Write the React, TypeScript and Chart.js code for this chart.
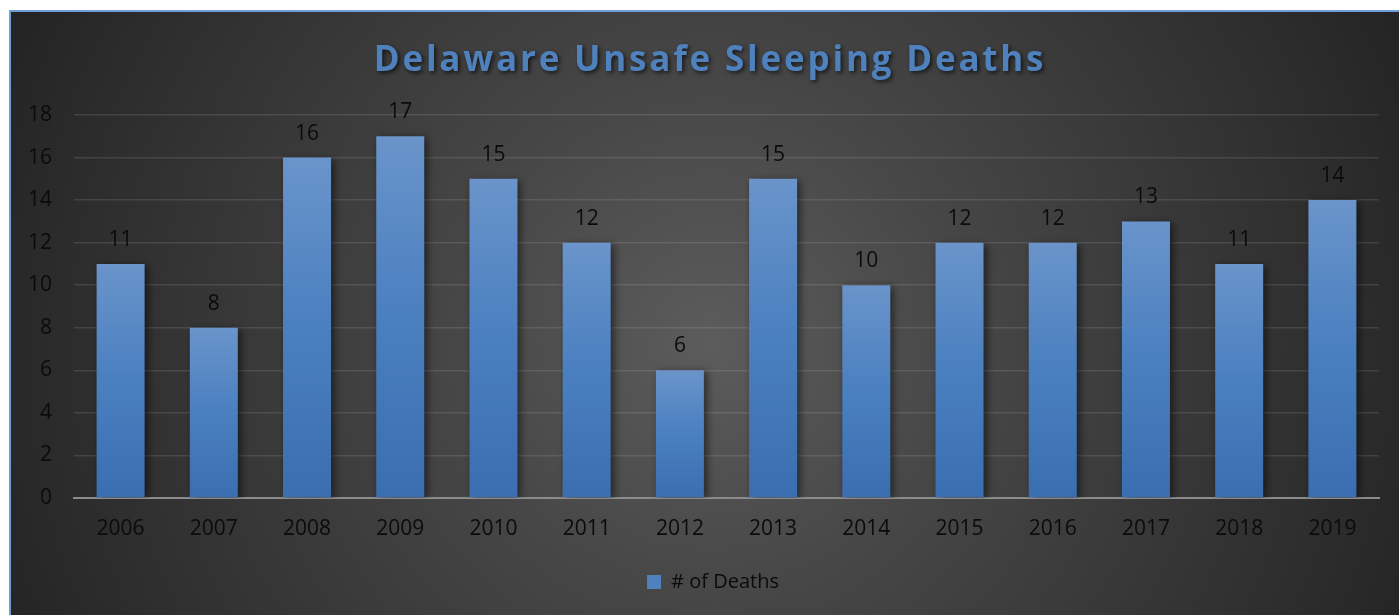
import React, { useEffect, useRef } from "react";
import { Chart, registerables } from "chart.js";

Chart.register(...registerables);

const categories = ["2006", "2007", "2008", "2009", "2010", "2011", "2012", "2013", "2014", "2015", "2016", "2017", "2018", "2019"];
const deaths = [11, 8, 16, 17, 15, 12, 6, 15, 10, 12, 12, 13, 11, 14];
const yTicks = [0, 2, 4, 6, 8, 10, 12, 14, 16, 18];
const titleText = "Delaware Unsafe Sleeping Deaths";
const seriesName = "# of Deaths";

const FONT = "'Open Sans', 'Noto Sans', sans-serif";
const TEXT = "#0b0b0b";

const bgPlugin = {
  id: "bgPlugin",
  afterLayout(chart: any) {
    const lg = chart.legend;
    if (lg) {
      lg.left += 18;
      lg.right += 18;
    }
  },
  beforeDraw(chart: any) {
    const { ctx, width, height } = chart;
    ctx.save();
    const g = ctx.createRadialGradient(700, 330, 0, 700, 330, 760);
    g.addColorStop(0, "#5c5c5c");
    g.addColorStop(0.33, "#474747");
    g.addColorStop(0.875, "#2b2b2b");
    g.addColorStop(1, "#242424");
    ctx.fillStyle = g;
    ctx.fillRect(0, 0, width, height);
    // title
    ctx.font = `bold 35px ${FONT}`;
    (ctx as any).letterSpacing = "2.8px";
    ctx.textAlign = "center";
    ctx.textBaseline = "alphabetic";
    ctx.shadowColor = "rgba(0,0,0,0.65)";
    ctx.shadowBlur = 4;
    ctx.shadowOffsetX = 2;
    ctx.shadowOffsetY = 2;
    ctx.fillStyle = "#4f81bd";
    ctx.fillText(titleText, 699, 59);
    ctx.restore();
  },
};

const shadowPlugin = {
  id: "shadowPlugin",
  beforeDatasetsDraw(chart: any) {
    const ctx = chart.ctx;
    ctx.save();
    ctx.shadowColor = "rgba(0,0,0,0.55)";
    ctx.shadowBlur = 8;
    ctx.shadowOffsetX = 3;
    ctx.shadowOffsetY = 2;
  },
  afterDatasetsDraw(chart: any) {
    const ctx = chart.ctx;
    ctx.restore();
    ctx.save();
    ctx.font = `21px ${FONT}`;
    ctx.fillStyle = TEXT;
    ctx.textAlign = "center";
    ctx.textBaseline = "middle";
    const meta = chart.getDatasetMeta(0);
    meta.data.forEach((bar: any, i: number) => {
      ctx.fillText(String(chart.data.datasets[0].data[i]), bar.x, bar.y - 24);
    });
    ctx.restore();
  },
};

export default function App() {
  const ref = useRef<HTMLCanvasElement | null>(null);
  useEffect(() => {
    document.body.style.overflow = "hidden";
    const canvas = ref.current!;
    const chart = new Chart(canvas, {
      type: "bar",
      data: {
        labels: categories,
        datasets: [
          {
            label: seriesName,
            data: deaths,
            borderWidth: 0,
            categoryPercentage: 0.515,
            barPercentage: 1,
            backgroundColor: (c: any) => {
              const ch = c.chart;
              if (!ch.chartArea || c.type !== "data") return "#4f81bd";
              const y = ch.scales.y;
              const top = y.getPixelForValue(c.parsed.y);
              const base = y.getPixelForValue(0);
              if (!isFinite(top) || !isFinite(base) || base - top < 1) return "#4f81bd";
              const g = ch.ctx.createLinearGradient(0, top, 0, base);
              g.addColorStop(0, "#6a94ca");
              g.addColorStop(0.5, "#4a7fc0");
              g.addColorStop(1, "#3a6eb0");
              return g;
            },
          },
        ],
      },
      options: {
        responsive: false,
        animation: false,
        devicePixelRatio: 1,
        layout: { padding: { left: 0, top: 103, right: 32, bottom: 20 } },
        plugins: {
          title: { display: false },
          tooltip: { enabled: false },
          legend: {
            position: "bottom",
            labels: {
              color: TEXT,
              font: { family: FONT, size: 20 },
              boxWidth: 14,
              boxHeight: 14,
              padding: 10,
              generateLabels: () => [
                {
                  text: seriesName,
                  fillStyle: "#4f81bd",
                  strokeStyle: "#4f81bd",
                  lineWidth: 0,
                  hidden: false,
                  datasetIndex: 0,
                  fontColor: TEXT,
                },
              ],
            },
          },
        },
        scales: {
          x: {
            grid: { display: false },
            border: { display: true, color: "#8c8c8c", width: 2 },
            ticks: { color: TEXT, font: { family: FONT, size: 21 }, padding: 10 },
            afterFit: (s: any) => {
              s.height = 64;
            },
          },
          y: {
            min: 0,
            max: 18,
            afterBuildTicks: (s: any) => {
              s.ticks = yTicks.map((v) => ({ value: v }));
            },
            grid: {
              color: (c: any) => (c.tick && c.tick.value === 0 ? "rgba(0,0,0,0)" : "rgba(255,255,255,0.11)"),
              lineWidth: 1.5,
              drawTicks: false,
            },
            border: { display: false },
            ticks: { color: TEXT, font: { family: FONT, size: 21 }, padding: 22 },
            afterFit: (s: any) => {
              s.width = 63;
            },
          },
        },
      },
      plugins: [bgPlugin, shadowPlugin],
    } as any);
    return () => chart.destroy();
  }, []);
  return (
    <div
      style={{
        position: "fixed",
        left: 9,
        top: 10,
        width: 1420,
        height: 620,
        borderLeft: "2px solid #6f9dd6",
        borderTop: "2px solid #6f9dd6",
        overflow: "hidden",
      }}
    >
      <canvas ref={ref} width={1400} height={610} style={{ display: "block" }} />
    </div>
  );
}
